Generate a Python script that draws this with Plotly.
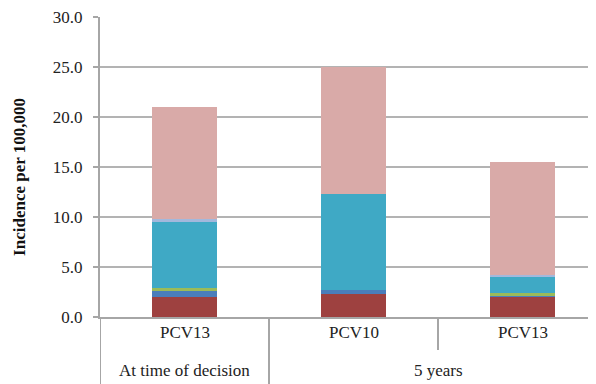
import plotly.graph_objects as go

# Data
periods = ["At time of decision", "5 years"]
period_members = [[0], [1, 2]]          # which bars belong to each period
vaccines = ["PCV13", "PCV10", "PCV13"]  # bar (inner) labels

series_names = ["Series 1", "Series 2", "Series 3", "Series 4", "Series 5", "Series 6"]
series_values = [
    [2.0, 2.3, 2.1],
    [0.6, 0.4, 0.1],
    [0.3, 0.0, 0.2],
    [6.7, 9.6, 1.6],
    [0.2, 0.0, 0.2],
    [11.2, 12.7, 11.3],
]
series_colors = ["#9E4140", "#4A7EBB", "#9BBB59", "#3FA9C5", "#A3B8DC", "#D9AAA8"]

y_tickvals = [0, 5, 10, 15, 20, 25, 30]
y_ticktext = ["0.0", "5.0", "10.0", "15.0", "20.0", "25.0", "30.0"]

xpos = list(range(len(vaccines)))
FONT = "Times New Roman, Liberation Serif, DejaVu Serif, serif"
GRAY = "#A6A6A6"

# page body has an 8px margin; figure compensates so plot sits where the reference's does
W, H = 588, 376
ML, MT, MB = 92, 9, 67
PW = W - ML
PH = H - MT - MB

fig = go.Figure()
for name, vals, col in zip(series_names, series_values, series_colors):
    fig.add_trace(go.Bar(
        x=xpos, y=vals, name=name,
        marker=dict(color=col, line=dict(width=0)),
        width=0.39, showlegend=False,
    ))

shapes = []
annotations = []
# inner labels
for i, lab in zip(xpos, vaccines):
    annotations.append(dict(x=i, y=-16 / PH, xref="x", yref="paper", text=lab,
                            showarrow=False, xanchor="center", yanchor="middle",
                            font=dict(family=FONT, size=17, color="#222222")))
# boundaries between bars (first label row)
for i in xpos[1:]:
    shapes.append(dict(type="line", xref="x", yref="paper", x0=i - 0.5, x1=i - 0.5,
                       y0=0, y1=-33 / PH, line=dict(color=GRAY, width=2)))
# outer labels and group dividers
for lab, members in zip(periods, period_members):
    lo, hi = members[0] - 0.5, members[-1] + 0.5
    annotations.append(dict(x=(lo + hi) / 2, y=-53 / PH, xref="x", yref="paper", text=lab,
                            showarrow=False, xanchor="center", yanchor="middle",
                            font=dict(family=FONT, size=17, color="#222222")))
    for xb in (lo, hi):
        shapes.append(dict(type="line", xref="x", yref="paper", x0=xb, x1=xb,
                           y0=0, y1=-MB / PH, line=dict(color=GRAY, width=2)))
# y axis title
annotations.append(dict(x=-80 / PW, y=0.467, xref="paper", yref="paper",
                        text="<b>Incidence per 100,000</b>", textangle=-90,
                        showarrow=False, xanchor="center", yanchor="middle",
                        font=dict(family=FONT, size=17, color="#111111")))

fig.update_layout(
    barmode="stack",
    width=W, height=H,
    margin=dict(l=ML, r=0, t=MT, b=MB, pad=0, autoexpand=False),
    plot_bgcolor="white", paper_bgcolor="white",
    font=dict(family=FONT, size=17, color="#222222"),
    shapes=shapes, annotations=annotations,
)
fig.update_xaxes(
    range=[-0.5, -0.5 + PW / 169.0], autorange=False, automargin=False,
    tickvals=xpos, ticktext=["" for _ in xpos],
    showline=True, linecolor=GRAY, linewidth=2, ticks="",
    showgrid=False, zeroline=False,
)
fig.update_yaxes(
    range=[0, 30.02], autorange=False, automargin=False,
    tickvals=y_tickvals, ticktext=y_ticktext,
    showgrid=True, gridcolor="#B3B3B3", gridwidth=2,
    showline=True, linecolor=GRAY, linewidth=2,
    ticks="outside", ticklen=5, tickcolor=GRAY, tickwidth=2,
    ticklabelstandoff=7, ticklabeloverflow="allow",
    tickfont=dict(family=FONT, size=17, color="#222222"),
    zeroline=False,
)

fig.write_html("out.html")
